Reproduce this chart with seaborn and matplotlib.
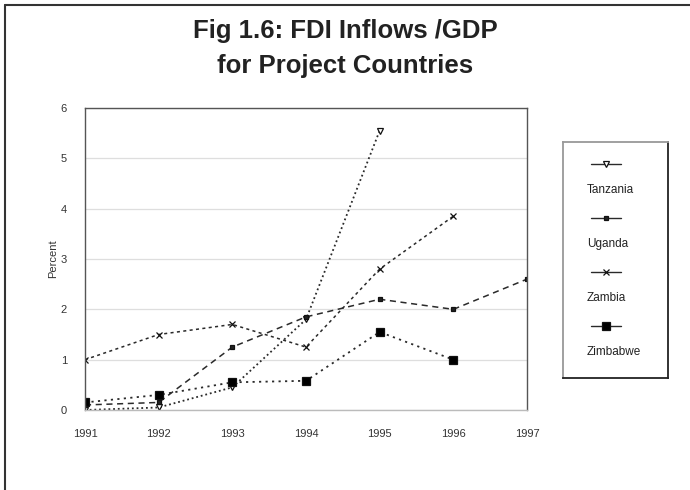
import numpy as np
import pandas as pd
import matplotlib
matplotlib.use("Agg")
import matplotlib.pyplot as plt
from matplotlib.lines import Line2D
import seaborn as sns

# FDI inflows as a share of GDP (percent), 1991-1997
years = [1991, 1992, 1993, 1994, 1995, 1996, 1997]
tanzania = [0.0, 0.05, 0.45, 1.8, 5.55, np.nan, np.nan]
uganda = [0.1, 0.15, 1.25, 1.85, 2.2, 2.0, 2.6]
zambia = [1.0, 1.5, 1.7, 1.25, 2.8, 3.85, np.nan]
zimbabwe = [0.15, 0.3, 0.55, 0.58, 1.55, 1.0, np.nan]
countries = ["Tanzania", "Uganda", "Zambia", "Zimbabwe"]
y_ticks = [0, 1, 2, 3, 4, 5, 6]

series = {"Tanzania": tanzania, "Uganda": uganda, "Zambia": zambia, "Zimbabwe": zimbabwe}
df = pd.DataFrame(
    [(c, y, v) for c in countries for y, v in zip(years, series[c])],
    columns=["country", "year", "value"],
).dropna()

sns.set_theme(style="white")
plt.rcParams["font.family"] = ["Liberation Sans", "DejaVu Sans"]

styles = {
    "Tanzania": dict(ls=(0, (1, 1.6)), marker="v", ms=4, mfc="white", lw=1.3),
    "Uganda": dict(ls=(0, (4, 3)), marker="s", ms=3.5, mfc="#222222", lw=1.1),
    "Zambia": dict(ls=(0, (2, 2.2)), marker="x", ms=4, mfc="#222222", lw=1.1),
    "Zimbabwe": dict(ls=(0, (1.2, 2.4)), marker="s", ms=6, mfc="black", lw=1.3),
}

fig = plt.figure(figsize=(6.9, 4.9), dpi=100)
ax = fig.add_axes([85 / 690, 1 - 410 / 490, 442 / 690, 302 / 490])

for c in countries:
    st = styles[c]
    sub = df[df["country"] == c]
    sns.lineplot(data=sub, x="year", y="value", ax=ax, color="#2a2a2a",
                 linestyle=st["ls"], linewidth=st["lw"], marker=st["marker"],
                 markersize=st["ms"], markerfacecolor=st["mfc"],
                 markeredgecolor="#111111", markeredgewidth=0.9, legend=False)

ax.set_xlim(1991, 1997)
ax.set_ylim(0, 6)
ax.set_xticks(years)
ax.set_xticklabels([str(y) for y in years], fontsize=8, color="#333333")
ax.set_yticks(y_ticks)
ax.set_yticklabels([str(t) for t in y_ticks], fontsize=8, color="#333333")
ax.tick_params(axis="x", length=0, pad=14)
ax.tick_params(axis="y", length=0, pad=13)
ax.set_xlabel("")
ax.set_ylabel("Percent", fontsize=8, color="#333333", labelpad=2)
ax.yaxis.grid(True, color="#dedede", linewidth=0.9)
for side, sp in ax.spines.items():
    sp.set_visible(True)
    sp.set_color("#555555")
    sp.set_linewidth(1.0)
ax.spines["bottom"].set_color("#bbbbbb")

fig.text(0.5, 1 - 31 / 490, "Fig 1.6: FDI Inflows /GDP", ha="center", va="center",
         fontsize=18.5, fontweight="bold", color="#222222")
fig.text(0.5, 1 - 66 / 490, "for Project Countries", ha="center", va="center",
         fontsize=18.5, fontweight="bold", color="#222222")

# legend panel: sample line above each label
lax = fig.add_axes([563 / 690, 1 - 378 / 490, 105 / 690, 236 / 490])
lax.set_xlim(0, 105)
lax.set_ylim(236, 0)
lax.set_xticks([])
lax.set_yticks([])
for side, sp in lax.spines.items():
    sp.set_color("#222222")
    sp.set_linewidth(1.3)
lax.spines["left"].set_color("#999999")
lax.spines["top"].set_color("#999999")
handle_y = [22, 76, 130, 184]
for c, hy in zip(countries, handle_y):
    st = styles[c]
    lax.add_line(Line2D([28, 58], [hy, hy], color="#2a2a2a", linestyle="-",
                        linewidth=1.0, marker=None))
    lax.plot([43], [hy], marker=st["marker"], ms=st["ms"], mfc=st["mfc"],
             mec="#111111", mew=0.9, color="#2a2a2a")
    lax.text(24, hy + 26, c, fontsize=8.5, ha="left", va="center", color="#222222")

# outer frame of the figure
fig.add_artist(Line2D([5 / 690, 5 / 690], [0, 1 - 5 / 490], transform=fig.transFigure,
                      color="#333333", linewidth=1.5))
fig.add_artist(Line2D([5 / 690, 1], [1 - 5 / 490, 1 - 5 / 490], transform=fig.transFigure,
                      color="#333333", linewidth=1.5))

fig.savefig("out.png", dpi=100, facecolor="white")
